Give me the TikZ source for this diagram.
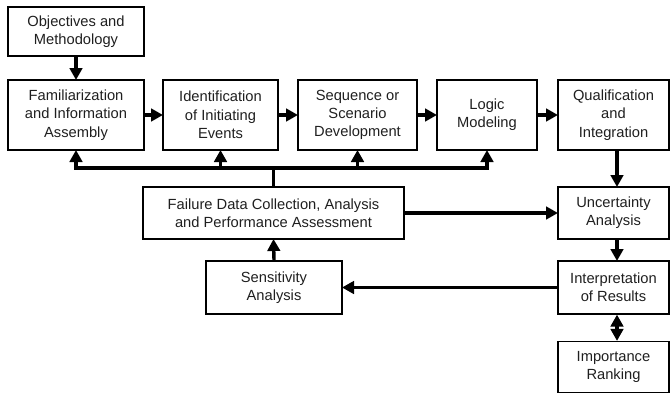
\documentclass[tikz,border=0pt]{standalone}
\usepackage{fontspec}
\setmainfont{Liberation Sans}
\usetikzlibrary{arrows.meta}
\begin{document}
\begin{tikzpicture}[x=1pt,y=-1pt,
  box/.style={draw=black, line width=1.2pt, align=center, inner sep=0pt,
    font=\fontsize{14.7pt}{18.3pt}\selectfont, text=black!88},
  conn/.style={line width=3.4pt},
  arr/.style={line width=3.4pt, -{Triangle[length=12pt,width=12.5pt]}, shorten >=-0.6pt},
  darr/.style={line width=3.4pt, {Triangle[length=12pt,width=12.5pt]}-{Triangle[length=12pt,width=12.5pt]}}]
\useasboundingbox (0,0) rectangle (670,394);
\node[box, minimum width=136pt, minimum height=49pt] (obj) at (76,31.5) {Objectives and\\Methodology};
\node[box, minimum width=136pt, minimum height=70pt] (fam) at (76,115) {Familiarization\\and Information\\Assembly};
\node[box, minimum width=115pt, minimum height=70pt] (ide) at (220.5,115) {Identification\\of Initiating\\Events};
\node[box, minimum width=119pt, minimum height=70pt] (seq) at (357.5,115) {Sequence or\\Scenario\\Development};
\node[box, minimum width=100pt, minimum height=70pt] (log) at (487,115) {Logic\\Modeling};
\node[box, minimum width=111pt, minimum height=70pt] (qua) at (613.5,115) {Qualification\\and\\Integration};
\node[box, minimum width=261pt, minimum height=52pt] (fail) at (273.5,213) {Failure Data Collection, Analysis\\and Performance Assessment};
\node[box, minimum width=136pt, minimum height=53pt] (sens) at (274,287.5) {Sensitivity\\Analysis};
\node[box, minimum width=111pt, minimum height=52pt] (unc) at (613.5,213) {Uncertainty\\Analysis};
\node[box, minimum width=111pt, minimum height=53pt] (int) at (613.5,287.5) {Interpretation\\of Results};
\node[box, minimum width=111pt, minimum height=51pt] (imp) at (613.5,367) {Importance\\Ranking};
\coordinate (bus) at (0,168);
\draw[arr] (obj.south) -- (fam.north);
\draw[arr] (fam.east) -- (ide.west);
\draw[arr] (ide.east) -- (seq.west);
\draw[arr] (seq.east) -- (log.west);
\draw[arr] (log.east) -- (qua.west);
\draw[conn] (fail.north) -- (fail.north |- bus);
\draw[conn, line cap=rect] (fam.south |- bus) -- (log.south |- bus);
\draw[arr] (fam.south |- bus) -- (fam.south);
\draw[arr] (ide.south |- bus) -- (ide.south);
\draw[arr] (seq.south |- bus) -- (seq.south);
\draw[arr] (log.south |- bus) -- (log.south);
\draw[arr] ([xshift=3.5pt]qua.south) -- ([xshift=3.5pt]unc.north);
\draw[arr] (fail.east) -- (unc.west);
\draw[arr] ([xshift=3.5pt]unc.south) -- ([xshift=3.5pt]int.north);
\draw[arr] (int.west) -- (sens.east);
\draw[arr] (sens.north) -- (fail.south);
\draw[darr] ([xshift=3.5pt]int.south) -- ([xshift=3.5pt]imp.north);
\end{tikzpicture}
\end{document}
